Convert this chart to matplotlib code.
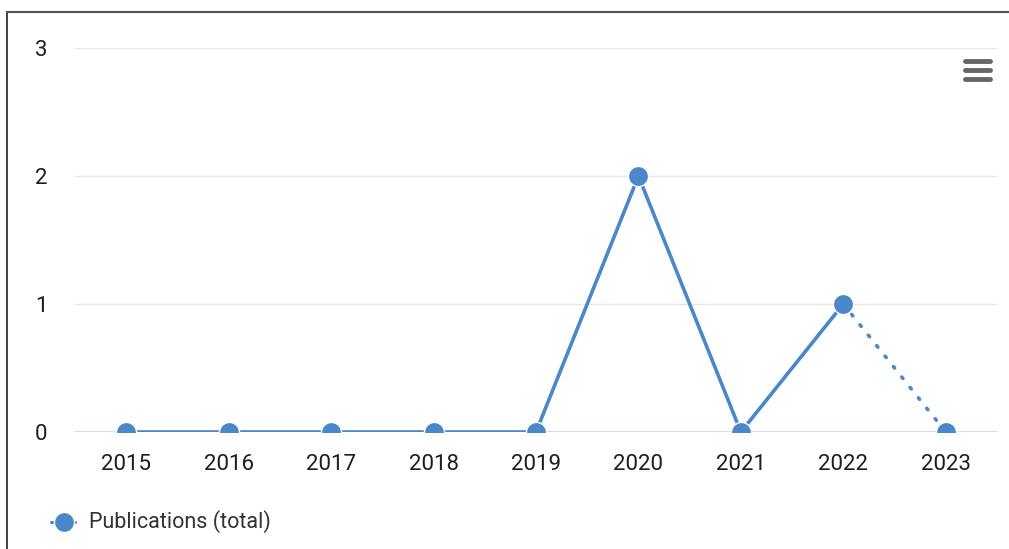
import matplotlib
matplotlib.use("Agg")
import matplotlib.pyplot as plt
from matplotlib.lines import Line2D

# data
years = [2015, 2016, 2017, 2018, 2019, 2020, 2021, 2022, 2023]
publications = [0, 0, 0, 0, 0, 2, 0, 1, 0]
series_name = "Publications (total)"
y_ticks = [0, 1, 2, 3]

color = "#4a88c9"
text_color = "#333333"
plt.rcParams["font.family"] = ["Roboto", "DejaVu Sans"]

W, H = 1009, 549
fig = plt.figure(figsize=(W / 100, H / 100), dpi=100)
ax = fig.add_axes([75 / W, (H - 432) / H, (997 - 75) / W, (432 - 48) / H])

x = list(range(len(years)))
# solid part up to 2022, dotted for the last (incomplete) year
ax.plot(x[:-1], publications[:-1], color=color, lw=2.6, zorder=3, solid_capstyle="round")
ax.plot(x[-2:], publications[-2:], color=color, lw=2.6, ls=(0, (0.5, 3.2)),
        dash_capstyle="round", zorder=3)
ax.plot(x, publications, ls="none", marker="o", ms=14.5, mfc=color,
        mec="white", mew=1.0, zorder=4)

ax.set_xlim(-0.5, len(years) - 0.5)
ax.set_ylim(0, 3)
ax.set_xticks(x)
ax.set_xticklabels([str(y) for y in years])
ax.set_yticks(y_ticks)
ax.tick_params(axis="both", length=0, labelsize=16, labelcolor="#1e1e1e")
ax.tick_params(axis="x", pad=16)
ax.tick_params(axis="y", pad=20)

for v in y_ticks[1:]:
    ax.axhline(v, color="#e6e6e6", lw=1, zorder=1)
ax.axhline(0, color="#ccd6eb", lw=1.2, zorder=1)
for s in ax.spines.values():
    s.set_visible(False)
ax.patch.set_alpha(0)

# legend
ly = 1 - 522 / H
fig.add_artist(Line2D([51 / W, 79 / W], [ly, ly], color=color, lw=2.2,
                      ls=(0, (0.5, 3.2)), dash_capstyle="round"))
fig.add_artist(Line2D([64 / W], [ly], marker="o", ms=14.5, mfc=color,
                      mec="white", mew=1.0, ls="none"))
fig.text(89 / W, ly, series_name, fontsize=15.5, color=text_color, va="center")

# outer frame (left + top)
fig.add_artist(Line2D([7 / W, 7 / W], [0, 1 - 12 / H], color="#222222", lw=1.2))
fig.add_artist(Line2D([7 / W, 1], [1 - 12 / H, 1 - 12 / H], color="#555555", lw=1.5))

# menu icon
for yy in [61, 70, 79]:
    fig.add_artist(Line2D([965 / W, 990 / W], [1 - yy / H] * 2, color="#666666",
                          lw=3.5, solid_capstyle="round"))

fig.savefig("out.png", dpi=100)
